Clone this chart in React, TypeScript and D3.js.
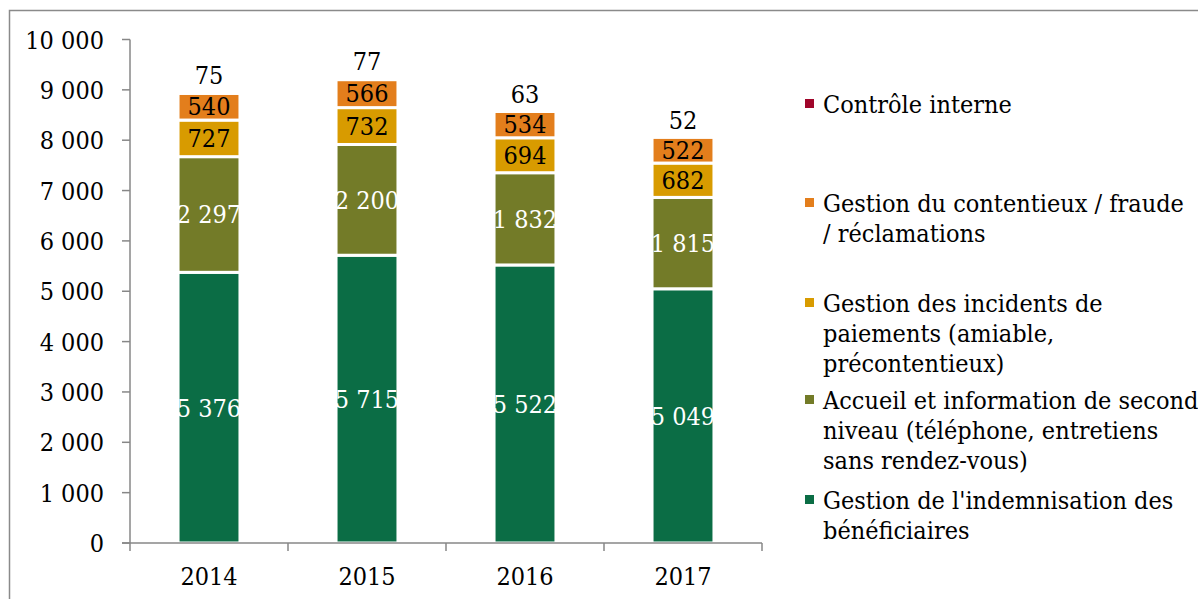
import React from "react";
import * as d3 from "d3";

const years = ["2014", "2015", "2016", "2017"];
const seriesNames = [
  "Gestion de l'indemnisation des bénéficiaires",
  "Accueil et information de second niveau (téléphone, entretiens sans rendez-vous)",
  "Gestion des incidents de paiements (amiable, précontentieux)",
  "Gestion du contentieux / fraude / réclamations",
  "Contrôle interne",
];
const indemnisation = [5376, 5715, 5522, 5049];
const accueil = [2297, 2200, 1832, 1815];
const incidents = [727, 732, 694, 682];
const contentieux = [540, 566, 534, 522];
const controle = [75, 77, 63, 52];
const yTicks = [0, 1000, 2000, 3000, 4000, 5000, 6000, 7000, 8000, 9000, 10000];

const colors = ["#0B6D45", "#737B28", "#D89B00", "#E37E1C", "#A0052A"];
const labelColors = ["#ffffff", "#ffffff", "#000000", "#000000", "#000000"];
const legendLines = [
  ["Contrôle interne"],
  ["Gestion du contentieux / fraude", "/ réclamations"],
  ["Gestion des incidents de", "paiements (amiable,", "précontentieux)"],
  ["Accueil et information de second", "niveau (téléphone, entretiens", "sans rendez-vous)"],
  ["Gestion de l'indemnisation des", "bénéficiaires"],
];
const legendSeries = [4, 3, 2, 1, 0];

const FONT = '"DejaVu Serif Condensed", "DejaVu Serif", serif';
const FS = 25;

function fmt(v: number) {
  return d3.format(",")(v).replace(/,/g, " ");
}

export default function App() {
  const W = 1198, H = 599;
  const left = 130, right = 762, top = 39.5, bottom = 543;
  const x = d3.scaleBand().domain(years).range([left, right]).paddingInner(0.608).paddingOuter(0.304);
  const y = d3.scaleLinear().domain([0, 10000]).range([bottom, top]);
  const data = years.map((yr, i) => ({
    year: yr,
    s0: indemnisation[i], s1: accueil[i], s2: incidents[i], s3: contentieux[i], s4: controle[i],
  }));
  const stack = d3.stack<any>().keys(["s0", "s1", "s2", "s3", "s4"]);
  const layers = stack(data);
  const xEdges = [left, ...years.map((yr, i) => left + x.step() * (i + 1))];

  const legendFirst = [113, 212, 312, 409, 509];
  const lh = 30;

  return (
    <svg width={W} height={H} style={{ position: "absolute", left: 0, top: 0 }} fontFamily={FONT} fontSize={FS}>
      <rect x={0} y={0} width={W} height={H} fill="#fff" />
      <rect x={9.5} y={10.5} width={W + 10} height={H + 10} fill="none" stroke="#8a8a8a" strokeWidth={1.5} />
      {layers.map((layer, li) => (
        <g key={li}>
          {layer.map((d, i) => {
            const y0 = y(d[0]), y1 = y(d[1]);
            const bx = x(years[i]) as number;
            return (
              <rect key={i} x={bx} y={y1} width={x.bandwidth()} height={y0 - y1}
                fill={colors[li]} stroke="#fff" strokeWidth={li === 4 ? 4.2 : 3} />
            );
          })}
        </g>
      ))}
      {layers.map((layer, li) => (
        <g key={"l" + li}>
          {layer.map((d, i) => {
            const y0 = y(d[0]), y1 = y(d[1]);
            const cx = (x(years[i]) as number) + x.bandwidth() / 2;
            const v = d[1] - d[0];
            if (li === 4) {
              return (
                <text key={i} x={cx} y={y1 - 5} textAnchor="middle" fill={labelColors[li]}>{fmt(v)}</text>
              );
            }
            return (
              <text key={i} x={cx} y={(y0 + y1) / 2} dy="0.36em" textAnchor="middle" fill={labelColors[li]}>{fmt(v)}</text>
            );
          })}
        </g>
      ))}
      <g stroke="#878787" strokeWidth={1.5} fill="none">
        <line x1={left} x2={left} y1={top} y2={bottom} />
        <line x1={122} x2={right} y1={bottom} y2={bottom} />
        {yTicks.map((t) => (
          <line key={t} x1={122} x2={left} y1={y(t)} y2={y(t)} />
        ))}
        {xEdges.map((e, i) => (
          <line key={i} x1={e} x2={e} y1={bottom} y2={bottom + 8} />
        ))}
      </g>
      {yTicks.map((t) => (
        <text key={t} x={104} y={y(t)} dy="0.36em" textAnchor="end" fill="#000">{fmt(t)}</text>
      ))}
      {years.map((yr) => (
        <text key={yr} x={(x(yr) as number) + x.bandwidth() / 2} y={585} textAnchor="middle" fill="#000">{yr}</text>
      ))}
      {legendLines.map((lines, k) => (
        <g key={k}>
          <rect x={805} y={legendFirst[k] - 14} width={9} height={9} fill={colors[legendSeries[k]]} />
          {lines.map((ln, j) => (
            <text key={j} x={823} y={legendFirst[k] + j * lh} fill="#000">{ln}</text>
          ))}
        </g>
      ))}
    </svg>
  );
}
